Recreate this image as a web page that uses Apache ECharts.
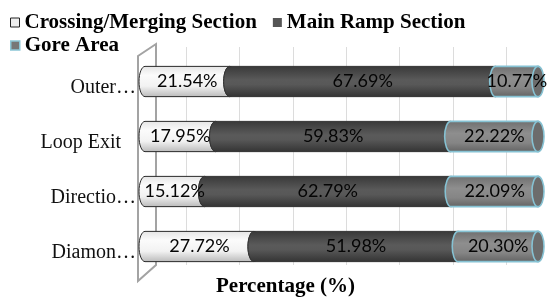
<!DOCTYPE html>
<html>
<head>
<meta charset="utf-8">
<script src="https://cdn.jsdelivr.net/npm/echarts@6/dist/echarts.min.js"></script>
<style>
  html, body { margin: 0; padding: 0; background: #fff; }
  #chart { width: 549px; height: 299px; }
</style>
</head>
<body>
<div id="chart"></div>
<script>
// categories, top to bottom
var categories = ['Outer…', 'Loop Exit', 'Directio…', 'Diamon…'];
// percentages per section
var crossing = [21.54, 17.95, 15.12, 27.72];
var mainRamp = [67.69, 59.83, 62.79, 51.98];
var goreArea = [10.77, 22.22, 22.09, 20.30];

var seriesNames = ['Crossing/Merging Section', 'Main Ramp Section', 'Gore Area'];

// build [catIndex, start, end, value] rows for the stacked cylinders
function buildRows(values, offsets) {
    return values.map(function (v, i) {
        return [i, offsets[i], offsets[i] + v, v];
    });
}
var off0 = categories.map(function () { return 0; });
var off1 = crossing.slice();
var off2 = crossing.map(function (v, i) { return v + mainRamp[i]; });

function grad(stops) {
    return new echarts.graphic.LinearGradient(0, 0, 0, 1, stops.map(function (s) {
        return { offset: s[0], color: s[1] };
    }));
}

var looks = [
    {
        fill: [[0, '#e4e4e4'], [0.3, '#fbfbfb'], [0.65, '#f2f2f2'], [1, '#b9b9b9']],
        stroke: '#2a2a2a', cap: '#e0e0e0', lw: 1
    },
    {
        fill: [[0, '#383838'], [0.45, '#5a5a5a'], [0.6, '#585858'], [1, '#333333']],
        stroke: '#333', cap: '#555', lw: 1
    },
    {
        fill: [[0, '#6e6e6e'], [0.4, '#8e8e8e'], [0.7, '#858585'], [1, '#626262']],
        stroke: '#86c2d3', cap: '#6c6c6c', lw: 1.6
    }
];

function cylinder(look) {
    return function (params, api) {
        var c = api.value(0);
        var p0 = api.coord([api.value(1), c]);
        var p1 = api.coord([api.value(2), c]);
        var h = api.size([0, 1])[1] * 0.55;
        var cy = p0[1], top = cy - h / 2, bot = cy + h / 2;
        var rx = 6, ry = h / 2, k = 0.5523;
        var x0 = p0[0], x1 = p1[0];
        var d = 'M' + x0 + ' ' + top + ' L' + x1 + ' ' + top + ' L' + x1 + ' ' + bot + ' L' + x0 + ' ' + bot +
            ' C' + (x0 - k * rx) + ' ' + bot + ' ' + (x0 - rx) + ' ' + (cy + k * ry) + ' ' + (x0 - rx) + ' ' + cy +
            ' C' + (x0 - rx) + ' ' + (cy - k * ry) + ' ' + (x0 - k * rx) + ' ' + top + ' ' + x0 + ' ' + top + ' Z';
        return {
            type: 'group',
            children: [
                {
                    type: 'path',
                    shape: { pathData: d },
                    style: { fill: grad(look.fill), stroke: look.stroke, lineWidth: look.lw }
                },
                {
                    type: 'ellipse',
                    shape: { cx: x1, cy: cy, rx: rx, ry: ry },
                    style: { fill: look.cap, stroke: look.stroke, lineWidth: look.lw }
                },
                {
                    type: 'rect',
                    shape: { x: x0, y: top, width: x1 - x0, height: h },
                    style: { fill: 'rgba(0,0,0,0)' },
                    silent: true,
                    textContent: {
                        style: {
                            text: api.value(3).toFixed(2) + '%',
                            fill: '#050505',
                            fontFamily: 'Lato',
                            fontSize: 18
                        }
                    },
                    textConfig: { position: 'inside', insideFill: '#050505', insideStroke: 'rgba(0,0,0,0)' }
                }
            ]
        };
    };
}

var chart = echarts.init(document.getElementById('chart'));

var legendRich = {
    b: { fontFamily: 'Liberation Serif', fontWeight: 'bold', fontSize: 21, color: '#000' }
};

chart.setOption({
    animation: false,
    title: {
        text: 'Percentage (%)',
        left: 211,
        top: 271,
        textStyle: { fontFamily: 'Liberation Serif', fontWeight: 'bold', fontSize: 21, color: '#000' }
    },
    legend: [
        {
            left: 5, top: 7, icon: 'rect', itemWidth: 9, itemHeight: 9, itemGap: 16,
            formatter: '{b|{name}}',
            textStyle: { rich: legendRich },
            data: [
                { name: seriesNames[0], itemStyle: { color: '#eee', borderColor: '#222', borderWidth: 1 } },
                { name: seriesNames[1], itemStyle: { color: '#555', borderWidth: 0 } }
            ]
        },
        {
            left: 5, top: 30, icon: 'rect', itemWidth: 9, itemHeight: 9,
            formatter: '{b|{name}}',
            textStyle: { rich: legendRich },
            data: [
                { name: seriesNames[2], itemStyle: { color: '#777', borderColor: '#8cc6d6', borderWidth: 1.5 } }
            ]
        }
    ],
    grid: [
        { left: 145, right: 11, top: 54, bottom: 25 },
        { left: 186, width: 320.4, top: 47, bottom: 34 }
    ],
    graphic: [
        {
            type: 'polygon',
            z: 0,
            shape: { points: [[138, 56], [156, 44], [156, 265], [138, 281]] },
            style: { fill: 'none', stroke: '#a3a3a3', lineWidth: 2 }
        }
    ],
    xAxis: [
        {
            type: 'value', min: 0, max: 100, gridIndex: 0,
            axisLine: { show: false }, axisTick: { show: false },
            axisLabel: { show: false }, splitLine: { show: false }
        },
        {
            type: 'value', min: 0, max: 6, interval: 1, gridIndex: 1,
            axisLine: { show: false }, axisTick: { show: false },
            axisLabel: { show: false },
            splitLine: { show: true, lineStyle: { color: '#dcdcdc', width: 1 } }
        }
    ],
    yAxis: [
        {
            type: 'category', inverse: true, gridIndex: 0,
            data: categories,
            axisLine: { show: false }, axisTick: { show: false },
            axisLabel: {
                margin: 9,
                verticalAlign: 'top',
                lineHeight: 12,
                formatter: function (v) {
                    return (v === 'Loop Exit' ? '{l|' : '{n|') + v + '}';
                },
                rich: {
                    n: { fontFamily: 'Liberation Serif', fontSize: 20, color: '#111', lineHeight: 12 },
                    l: { fontFamily: 'Liberation Serif', fontSize: 20, color: '#111', lineHeight: 12, padding: [0, 15, 0, 0] }
                }
            }
        },
        {
            type: 'value', gridIndex: 1, show: false
        }
    ],
    series: [
        {
            name: seriesNames[0], type: 'custom', renderItem: cylinder(looks[0]),
            xAxisIndex: 0, yAxisIndex: 0, encode: { x: [1, 2], y: 0 },
            itemStyle: { color: '#eee' },
            data: buildRows(crossing, off0)
        },
        {
            name: seriesNames[1], type: 'custom', renderItem: cylinder(looks[1]),
            xAxisIndex: 0, yAxisIndex: 0, encode: { x: [1, 2], y: 0 },
            itemStyle: { color: '#555' },
            data: buildRows(mainRamp, off1)
        },
        {
            name: seriesNames[2], type: 'custom', renderItem: cylinder(looks[2]),
            xAxisIndex: 0, yAxisIndex: 0, encode: { x: [1, 2], y: 0 },
            itemStyle: { color: '#777' },
            data: buildRows(goreArea, off2)
        }
    ]
});
</script>
</body>
</html>
